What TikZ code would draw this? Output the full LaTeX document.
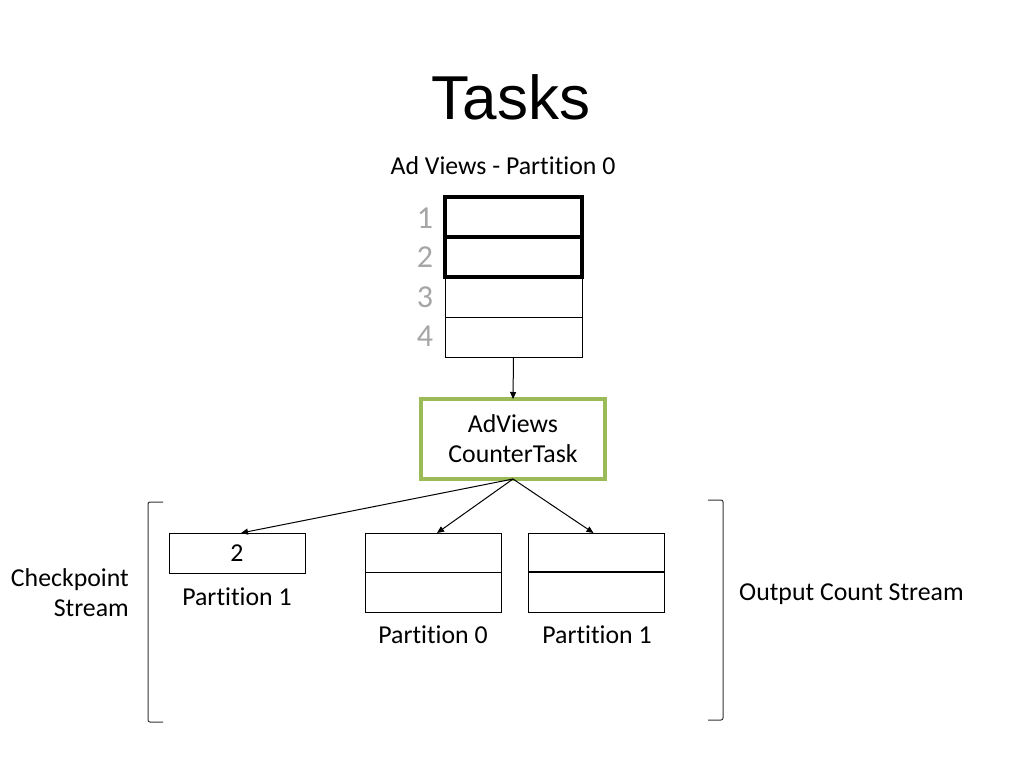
\documentclass[tikz,border=0pt]{standalone}
\usepackage{fontspec}
\setmainfont{Carlito}[Ligatures=NoCommon]
\newfontfamily\titlefont{Liberation Sans}
\usetikzlibrary{arrows.meta}
\definecolor{ogreen}{HTML}{9BBB59}
\definecolor{numgray}{HTML}{A6A6A6}
\begin{document}
\begin{tikzpicture}[x=1pt,y=-1pt,
  txt/.style={font=\fontsize{25.8}{30}\selectfont, inner sep=0pt, align=center},
  numtxt/.style={font=\fontsize{32}{36}\selectfont, text=numgray, inner sep=0pt},
  cell/.style={draw=black, line width=1pt, minimum width=137pt, minimum height=40pt, inner sep=0pt, outer sep=0pt},
  thickcell/.style={draw=black, line width=4pt, minimum width=137pt, minimum height=40pt, inner sep=0pt, outer sep=0pt},
  tbox/.style={draw=black, line width=1pt, minimum width=136pt, inner sep=0pt, outer sep=0pt},
  arr/.style={line width=1pt, -{Triangle[length=7pt,width=6pt]}},
  brk/.style={line width=1pt, draw=black!80, rounded corners=2pt}
]
\useasboundingbox (0,0) rectangle (1024,768);
\fill[white] (0,0) rectangle (1024,768);

\node[font=\titlefont\fontsize{62}{70}\selectfont, inner sep=0pt] (title) at (511,97) {Tasks};
\node[txt] (adv) at (503,166) {Ad Views - Partition 0};

% stack
\node[cell] (r3) at (513.5,297) {};
\node[cell] (r4) at (513.5,337) {};
\node[thickcell] (r1) at (513.5,217) {};
\node[thickcell] (r2) at (513.5,257) {};
\node[numtxt] (n1) at (425,218) {1};
\node[numtxt] (n2) at (425,257) {2};
\node[numtxt] (n3) at (425,297) {3};
\node[numtxt] (n4) at (425,336) {4};

% task
\node[draw=ogreen, line width=3.5pt, minimum width=184pt, minimum height=80pt, inner sep=0pt, outer sep=0pt, txt] (ct) at (513,439) {AdViews\\CounterTask};
\draw[arr] (r4.south) -- (ct.north);

% checkpoint
\node[tbox, minimum height=40pt, txt] (cp) at (237,553) {2};
\node[txt] (cpl) at (237,597) {Partition 1};

% output boxes
\node[tbox, minimum height=79pt] (o0) at (433,572.5) {};
\draw[line width=1pt] (o0.west |- 0,572) -- (o0.east |- 0,572);
\node[txt] (o0l) at (433,635) {Partition 0};
\node[tbox, minimum height=79pt] (o1) at (596.5,572.5) {};
\draw[line width=1.5pt] (o1.west |- 0,572) -- (o1.east |- 0,572);
\node[txt] (o1l) at (597,635) {Partition 1};

% arrows
\coordinate (src) at (ct.south);
\draw[arr] (src) -- ([xshift=4pt]cp.north);
\draw[arr] (src) -- ([xshift=4pt]o0.north);
\draw[arr] (src) -- ([xshift=-3pt]o1.north);

% brackets
\draw[brk] (163,502) -- (148,502) -- (148,722) -- (163,722);
\draw[brk] (708,500) -- (723,500) -- (723,720) -- (708,720);

\node[txt, align=right, anchor=east] (cps) at (129,593) {Checkpoint\\Stream};
\node[txt, anchor=west] (ocs) at (739,594) {Output Count Stream};
\end{tikzpicture}
\end{document}
